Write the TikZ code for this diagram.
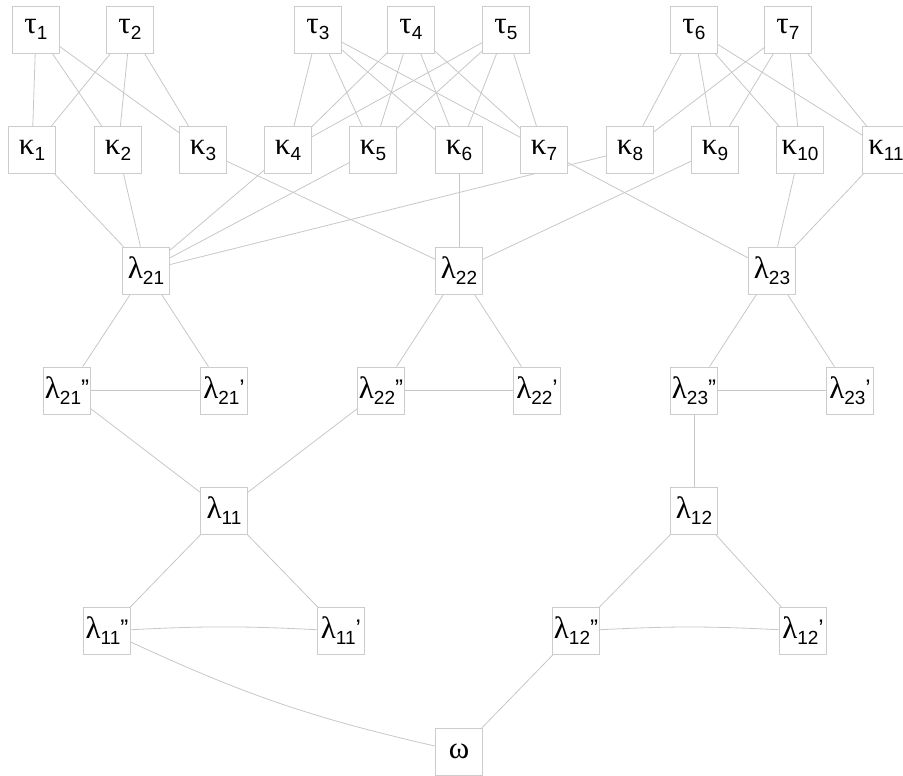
\documentclass[tikz,border=0pt]{standalone}
\usepackage{fontspec}
\setmainfont{Liberation Sans}
\newfontfamily\gr{Liberation Serif}
\pgfdeclarelayer{background}
\pgfsetlayers{background,main}
\newcommand\glab[3]{{\fontsize{31}{31}\selectfont\gr #1}\raisebox{-6pt}{\fontsize{19}{19}\selectfont #2}\raisebox{2pt}{\fontsize{24}{24}\selectfont #3}}
\tikzset{
  box/.style={draw=black!20, line width=0.8pt, fill=white, minimum width=47pt, minimum height=47pt, inner sep=0pt, text=black},
  edge/.style={draw=black!22, line width=0.8pt}
}
\begin{document}
\begin{tikzpicture}[x=1pt,y=-1pt]
\useasboundingbox (0,0) rectangle (903,776);
% tau row
\node[box] (t1) at (36,29.5) {\glab{τ}{1}{}};
\node[box] (t2) at (130,29.5) {\glab{τ}{2}{}};
\node[box] (t3) at (318,29.5) {\glab{τ}{3}{}};
\node[box] (t4) at (411,29.5) {\glab{τ}{4}{}};
\node[box] (t5) at (506,29.5) {\glab{τ}{5}{}};
\node[box] (t6) at (694,29.5) {\glab{τ}{6}{}};
\node[box] (t7) at (788,29.5) {\glab{τ}{7}{}};
% kappa row
\node[box] (k1) at (32,150) {\glab{κ}{1}{}};
\node[box] (k2) at (118,150) {\glab{κ}{2}{}};
\node[box] (k3) at (203,150) {\glab{κ}{3}{}};
\node[box] (k4) at (288,150) {\glab{κ}{4}{}};
\node[box] (k5) at (373,150) {\glab{κ}{5}{}};
\node[box] (k6) at (459,150) {\glab{κ}{6}{}};
\node[box] (k7) at (544,150) {\glab{κ}{7}{}};
\node[box] (k8) at (630,150) {\glab{κ}{8}{}};
\node[box] (k9) at (715,150) {\glab{κ}{9}{}};
\node[box] (k10) at (800,150) {\glab{κ}{10}{}};
\node[box] (k11) at (886,150) {\glab{κ}{11}{}};
% lambda2 row
\node[box] (l21) at (146,270.5) {\glab{λ}{21}{}};
\node[box] (l22) at (459,270.5) {\glab{λ}{22}{}};
\node[box] (l23) at (772,270.5) {\glab{λ}{23}{}};
% lambda2 primes
\node[box] (l21b) at (67,390.5) {\glab{λ}{21}{”}};
\node[box] (l21a) at (224,390.5) {\glab{λ}{21}{’}};
\node[box] (l22b) at (381,390.5) {\glab{λ}{22}{”}};
\node[box] (l22a) at (537,390.5) {\glab{λ}{22}{’}};
\node[box] (l23b) at (694,390.5) {\glab{λ}{23}{”}};
\node[box] (l23a) at (850,390.5) {\glab{λ}{23}{’}};
% lambda1 row
\node[box] (l11) at (224,510.5) {\glab{λ}{11}{}};
\node[box] (l12) at (694,510.5) {\glab{λ}{12}{}};
% lambda1 primes
\node[box] (l11b) at (107,631) {\glab{λ}{11}{”}};
\node[box] (l11a) at (341,631) {\glab{λ}{11}{’}};
\node[box] (l12b) at (576,631) {\glab{λ}{12}{”}};
\node[box] (l12a) at (803,631) {\glab{λ}{12}{’}};
% omega
\node[box] (om) at (459,751.5) {{\fontsize{31}{31}\selectfont\gr ω}};

\begin{pgfonlayer}{background}
\foreach \a in {t1,t2}{\foreach \b in {k1,k2,k3}{\draw[edge] (\a) -- (\b);}}
\foreach \a in {t3,t4,t5}{\foreach \b in {k4,k5,k6,k7}{\draw[edge] (\a) -- (\b);}}
\foreach \a in {t6,t7}{\foreach \b in {k8,k9,k10,k11}{\draw[edge] (\a) -- (\b);}}
\foreach \b in {k1,k2,k4,k5,k8}{\draw[edge] (\b) -- (l21);}
\foreach \b in {k3,k6,k9}{\draw[edge] (\b) -- (l22);}
\foreach \b in {k7,k10,k11}{\draw[edge] (\b) -- (l23);}
\draw[edge] (l21) -- (l21b);
\draw[edge] (l21) -- (l21a);
\draw[edge] (l22) -- (l22b);
\draw[edge] (l22) -- (l22a);
\draw[edge] (l23) -- (l23b);
\draw[edge] (l23) -- (l23a);
\draw[edge] (l21b) -- (l21a);
\draw[edge] (l22b) -- (l22a);
\draw[edge] (l23b) -- (l23a);
\draw[edge] (l21b) -- (l11);
\draw[edge] (l22b) -- (l11);
\draw[edge] (l23b) -- (l12);
\draw[edge] (l11) -- (l11b);
\draw[edge] (l11) -- (l11a);
\draw[edge] (l12) -- (l12b);
\draw[edge] (l12) -- (l12a);
\draw[edge] (l11b) to[bend left=3] (l11a);
\draw[edge] (l12b) to[bend left=3] (l12a);
\draw[edge] (l11b) to[bend right=6] (om);
\draw[edge] (l12b) -- (om);
\end{pgfonlayer}
\end{tikzpicture}
\end{document}
